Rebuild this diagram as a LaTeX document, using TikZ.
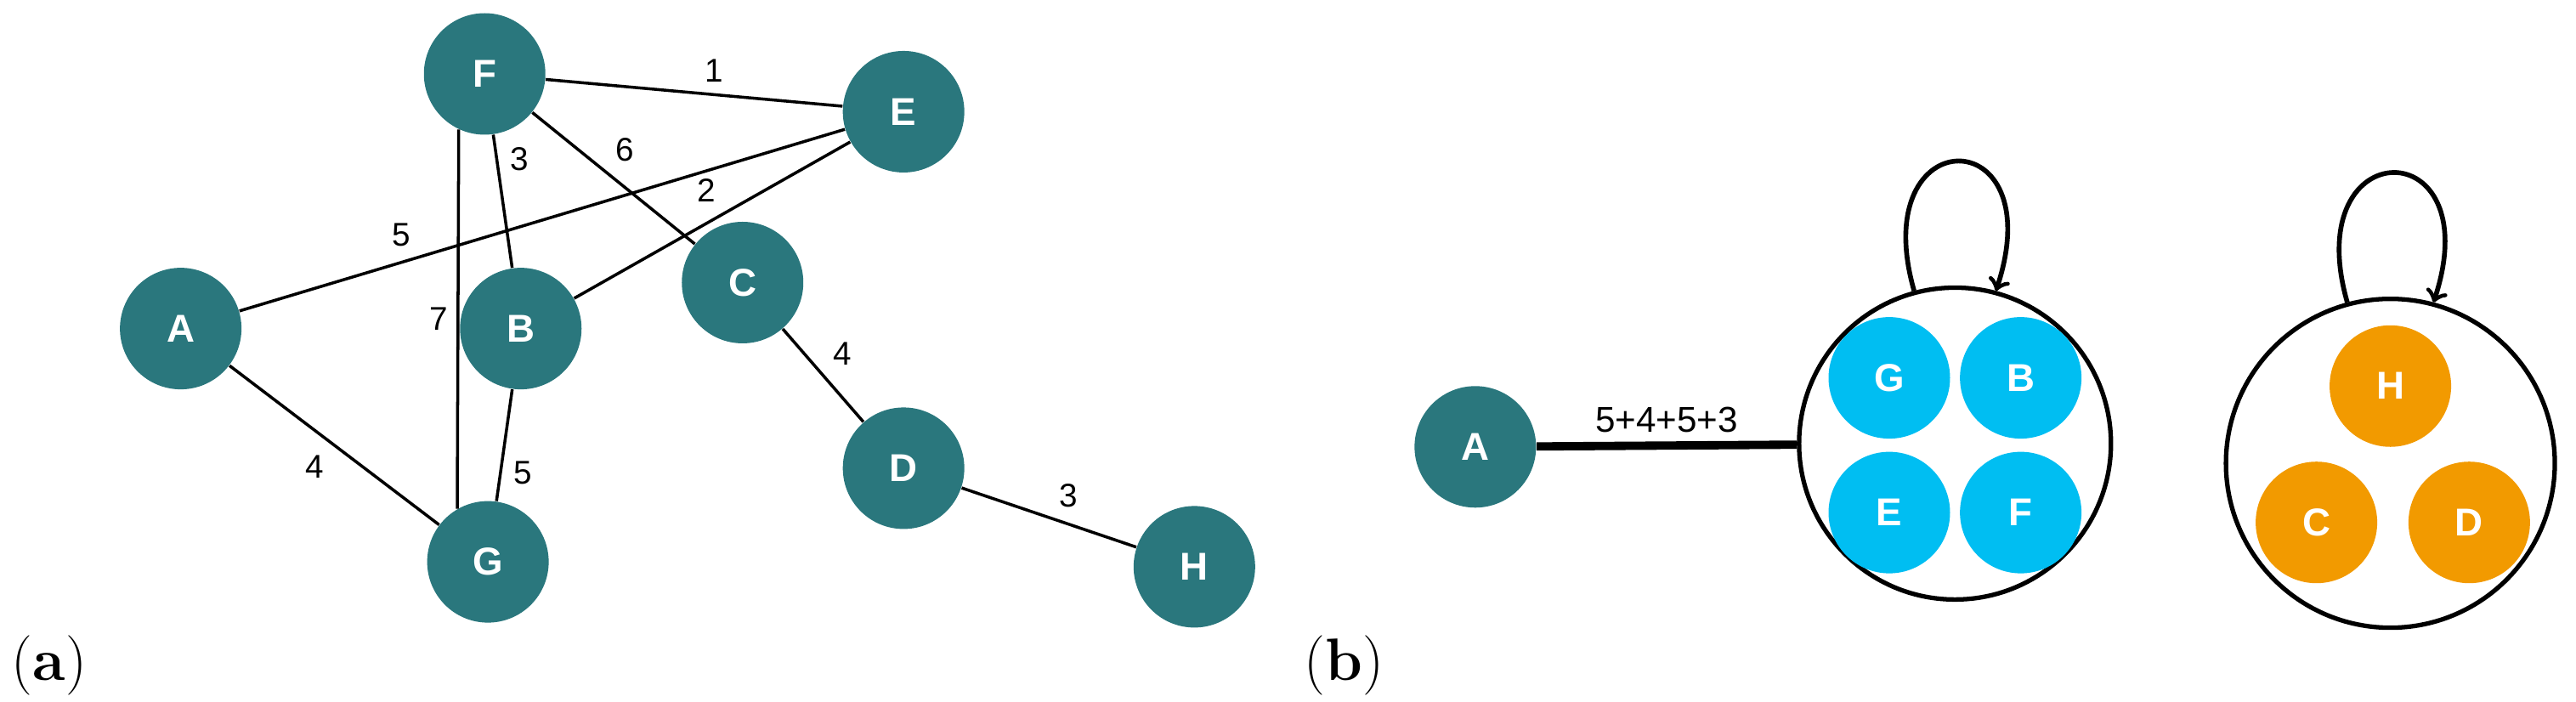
\documentclass[tikz,border=0pt]{standalone}
\usepackage{fontspec}
\newfontfamily\lab{Liberation Sans}
\usetikzlibrary{positioning}
\definecolor{tealnode}{HTML}{2A777D}
\definecolor{cyannode}{HTML}{00BEF2}
\definecolor{orangenode}{HTML}{F29A00}
\tikzset{
  vert/.style={circle, fill=tealnode, minimum size=1.43cm, inner sep=0pt, text=white, font=\lab\bfseries\fontsize{13}{15}\selectfont},
  grp/.style={circle, draw, line width=1.5pt, inner sep=0pt},
  wt/.style={font=\lab\fontsize{11}{13}\selectfont, inner sep=3pt},
  sub/.style={font=\fontsize{20}{24}\selectfont}
}
\begin{document}
\begin{tikzpicture}[x=0.01933cm,y=-0.01933cm,auto]
      \useasboundingbox (0,0) rectangle (1568,427);
      % part (a)
      \node[vert] (F) at (295,45) {F};
      \node[vert] (E) at (550,68) {E};
      \node[vert] (A) at (110,200) {A};
      \node[vert] (B) at (317,200) {B};
      \node[vert] (C) at (452,172) {C};
      \node[vert] (D) at (550,285) {D};
      \node[vert] (G) at (297,342) {G};
      \node[vert] (H) at (727,345) {H};

       \path[line width=1pt] 
          (F) edge node[wt,pos=0.5] {1} (E)
          (F) edge node[wt,pos=0.45] {6} (C)
          (F) edge node[wt,pos=0.35] {3} (B)
          (E) edge node[wt,swap,pos=0.45] {2} (B)
          (A) edge node[wt,pos=0.3] {5} (E)
          (F.245) edge node[wt,swap,pos=0.5] {7} (G.120)
          (A) edge node[wt,swap] {4} (G)
          (B) edge node[wt,pos=0.55] {5} (G)
          (C) edge node[wt] {4} (D)
          (D) edge node[wt] {3} (H)
      ;
      \node[sub] (la) at (30,405) {(\textbf{a})};

      % part (b)
      \node[vert] (A2) at (898,272) {A};
      \node[grp, minimum size=3.67cm] (K1) at (1190,270) {};
      \node[grp, minimum size=3.87cm] (K2) at (1455,282) {};
      \node[vert, fill=cyannode] (G2) at (1150,230) {G};
      \node[vert, fill=cyannode] (B2) at (1230,230) {B};
      \node[vert, fill=cyannode] (E2) at (1150,312) {E};
      \node[vert, fill=cyannode] (F2) at (1230,312) {F};
      \node[vert, fill=orangenode] (H2) at (1455,235) {H};
      \node[vert, fill=orangenode] (C2) at (1410,318) {C};
      \node[vert, fill=orangenode] (D2) at (1503,318) {D};

      \path (A2) edge[line width=2.8pt] node[wt,font=\lab\fontsize{12}{14}\selectfont] {5+4+5+3} (K1);
      \draw[->, line width=1.6pt] (K1.105) .. controls +(-30,-105) and +(35,-105) .. (K1.75);
      \draw[->, line width=1.6pt] (K2.105) .. controls +(-30,-105) and +(35,-105) .. (K2.75);
      \node[sub] (lb) at (818,405) {(\textbf{b})};
  \end{tikzpicture}
\end{document}
